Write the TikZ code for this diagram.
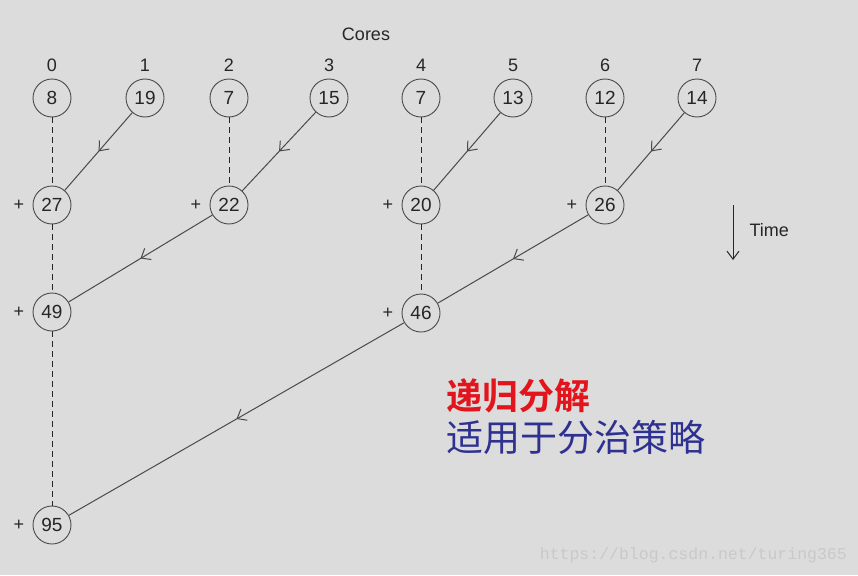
\documentclass[tikz,border=0pt]{standalone}
\usepackage{fontspec}
\setmainfont{Liberation Sans}
\newfontfamily\cjk{Noto Sans CJK SC}
\newfontfamily\cjkbold{Noto Sans CJK SC Bold}
\newfontfamily\wmfont{Liberation Mono}
\usetikzlibrary{arrows.meta,decorations.markings}
\definecolor{bg}{HTML}{DCDCDC}
\definecolor{ln}{HTML}{4A4A4A}
\definecolor{cnred}{HTML}{E2141C}
\definecolor{cnblue}{HTML}{2E3190}
\definecolor{wm}{HTML}{C9C9C9}
\tikzset{
  val/.style={circle,draw=ln,line width=0.9pt,minimum size=38pt,inner sep=0pt,font=\fontsize{19}{19}\selectfont,text=black!85},
  lbl/.style={font=\fontsize{18}{18}\selectfont,text=black!85},
  dash link/.style={draw=black!85,dashed,line width=0.9pt,dash pattern=on 6pt off 4pt},
  merge/.style={draw=ln,line width=1pt,postaction={decorate},
    decoration={markings,mark=at position 0.5 with {\arrow{Straight Barb[length=8pt,width=13pt,line width=1pt]}}}},
}
\begin{document}
\begin{tikzpicture}[x=1pt,y=-1pt]
\fill[bg] (0,0) rectangle (858,575);
\useasboundingbox (0,0) rectangle (858,575);
\node[lbl] (cores) at (366,34) {Cores};
\foreach \i/\x/\v in {0/52/8,1/145/19,2/229/7,3/329/15,4/421/7,5/513/13,6/605/12,7/697/14}{
  \node[lbl] (n\i) at (\x,65) {\i};
  \node[val] (c\i) at (\x,98) {\v};
}
\node[val] (s27) at (52,205) {27};
\node[val] (s22) at (229,205) {22};
\node[val] (s20) at (421,205) {20};
\node[val] (s26) at (605,205) {26};
\node[val] (s49) at (52,312) {49};
\node[val] (s46) at (421,313) {46};
\node[val] (s95) at (52,525) {95};
\foreach \n in {s27,s22,s20,s26,s49,s46,s95}{
  \node[lbl,anchor=east] (p\n) at ([xshift=-5pt]\n.west) {+};
}
\draw[dash link] (c0) -- (s27);
\draw[dash link] (c2) -- (s22);
\draw[dash link] (c4) -- (s20);
\draw[dash link] (c6) -- (s26);
\draw[dash link] (s27) -- (s49);
\draw[dash link] (s20) -- (s46);
\draw[dash link] (s49) -- (s95);
\draw[merge] (c1) -- (s27);
\draw[merge] (c3) -- (s22);
\draw[merge] (c5) -- (s20);
\draw[merge] (c7) -- (s26);
\draw[merge] (s22) -- (s49);
\draw[merge] (s26) -- (s46);
\draw[merge] (s46) -- (s95);
\coordinate (t1) at (733,205);
\coordinate (t2) at (733,260);
\draw[black!85,line width=1pt,-{Straight Barb[length=8pt,width=12pt,line width=1pt]}] (t1) -- (t2);
\node[lbl,anchor=west] (time) at (746,230) {Time};
\node[anchor=west,inner sep=0pt,text=cnred,font=\cjkbold\fontsize{36}{36}\selectfont] (l1) at (446,396) {递归分解};
\node[anchor=west,inner sep=0pt,text=cnblue,font=\cjk\fontsize{37}{37}\selectfont] (l2) at (446,437) {适用于分治策略};
\node[anchor=east,inner sep=0pt,text=wm,font=\wmfont\fontsize{16.5}{16.5}\selectfont] (wmk) at (847,555) {https://blog.csdn.net/turing365};
\end{tikzpicture}
\end{document}
